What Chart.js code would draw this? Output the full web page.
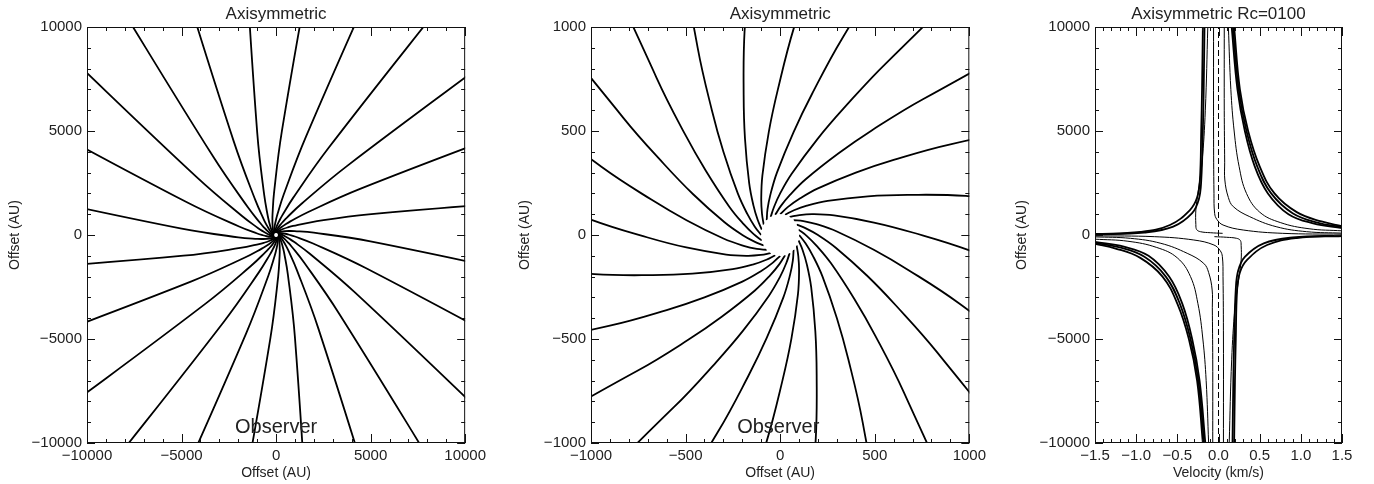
<!DOCTYPE html>
<html>
<head>
<meta charset="utf-8">
<script src="https://cdn.jsdelivr.net/npm/chart.js@4.4.0/dist/chart.umd.min.js"></script>
<style>
  html, body { margin: 0; padding: 0; background: #fff; }
  #wrap { position: relative; width: 1374px; height: 484px; overflow: hidden; }
  .panel { position: absolute; top: 0; }
</style>
</head>
<body>
<div id="wrap">
  <canvas id="c1" class="panel" style="left:0px" width="490" height="484"></canvas>
  <canvas id="c2" class="panel" style="left:490px" width="500" height="484"></canvas>
  <canvas id="c3" class="panel" style="left:990px" width="384" height="484"></canvas>
</div>
<script>
// infall streamlines (AU), outer -> inner, ending on the centrifugal radius
const streamX = [
  [14900, 4900, 1900, 900, 600, 400, 200, 100, 40, 0],
  [13944, 4476, 1674, 757, 486, 309, 135, 52, 4, -26],
  [12039, 3746, 1333, 562, 339, 196, 61, 0, -32, -50],
  [9314, 2761, 902, 328, 169, 71, -17, -52, -67, -71],
  [5952, 1588, 409, 73, -12, -60, -94, -100, -96, -87],
  [2186, 307, -111, -188, -193, -186, -164, -141, -119, -97],
  [-1730, -995, -624, -436, -361, -300, -224, -173, -134, -100],
  [-5526, -2230, -1095, -654, -504, -393, -268, -193, -140, -97],
  [-8946, -3312, -1491, -828, -612, -460, -294, -200, -136, -87],
  [-11757, -4169, -1785, -945, -679, -495, -300, -193, -123, -71],
  [-13769, -4741, -1958, -997, -700, -496, -285, -173, -102, -50],
  [-14840, -4991, -1997, -982, -673, -464, -251, -141, -73, -26],
  [-14900, -4900, -1900, -900, -600, -400, -200, -100, -40, 0],
  [-13944, -4476, -1674, -757, -486, -309, -135, -52, -4, 26],
  [-12039, -3746, -1333, -562, -339, -196, -61, 0, 32, 50],
  [-9314, -2761, -902, -328, -169, -71, 17, 52, 67, 71],
  [-5952, -1588, -409, -73, 12, 60, 94, 100, 96, 87],
  [-2186, -307, 111, 188, 193, 186, 164, 141, 119, 97],
  [1730, 995, 624, 436, 361, 300, 224, 173, 134, 100],
  [5526, 2230, 1095, 654, 504, 393, 268, 193, 140, 97],
  [8946, 3312, 1491, 828, 612, 460, 294, 200, 136, 87],
  [11757, 4169, 1785, 945, 679, 495, 300, 193, 123, 71],
  [13769, 4741, 1958, 997, 700, 496, 285, 173, 102, 50],
  [14840, 4991, 1997, 982, 673, 464, 251, 141, 73, 26]
];
const streamY = [
  [1730, 995, 624, 436, 361, 300, 224, 173, 134, 100],
  [5526, 2230, 1095, 654, 504, 393, 268, 193, 140, 97],
  [8946, 3312, 1491, 828, 612, 460, 294, 200, 136, 87],
  [11757, 4169, 1785, 945, 679, 495, 300, 193, 123, 71],
  [13769, 4741, 1958, 997, 700, 496, 285, 173, 102, 50],
  [14840, 4991, 1997, 982, 673, 464, 251, 141, 73, 26],
  [14900, 4900, 1900, 900, 600, 400, 200, 100, 40, 0],
  [13944, 4476, 1674, 757, 486, 309, 135, 52, 4, -26],
  [12039, 3746, 1333, 562, 339, 196, 61, 0, -32, -50],
  [9314, 2761, 902, 328, 169, 71, -17, -52, -67, -71],
  [5952, 1588, 409, 73, -12, -60, -94, -100, -96, -87],
  [2186, 307, -111, -188, -193, -186, -164, -141, -119, -97],
  [-1730, -995, -624, -436, -361, -300, -224, -173, -134, -100],
  [-5526, -2230, -1095, -654, -504, -393, -268, -193, -140, -97],
  [-8946, -3312, -1491, -828, -612, -460, -294, -200, -136, -87],
  [-11757, -4169, -1785, -945, -679, -495, -300, -193, -123, -71],
  [-13769, -4741, -1958, -997, -700, -496, -285, -173, -102, -50],
  [-14840, -4991, -1997, -982, -673, -464, -251, -141, -73, -26],
  [-14900, -4900, -1900, -900, -600, -400, -200, -100, -40, 0],
  [-13944, -4476, -1674, -757, -486, -309, -135, -52, -4, 26],
  [-12039, -3746, -1333, -562, -339, -196, -61, 0, 32, 50],
  [-9314, -2761, -902, -328, -169, -71, 17, 52, 67, 71],
  [-5952, -1588, -409, -73, 12, 60, 94, 100, 96, 87],
  [-2186, -307, 111, 188, 193, 186, 164, 141, 119, 97]
];
const centrifugalRadius = 100;

// position-velocity tracks (km/s, AU)
const pvVel = [
  [0.19, 0.26, 0.36, 0.50, 0.68, 0.95, 1.25, 1.50],
  [0.175, 0.245, 0.34, 0.47, 0.64, 0.90, 1.20, 1.50],
  [0.16, 0.23, 0.32, 0.44, 0.60, 0.85, 1.15, 1.50],
  [0.12, 0.15, 0.19, 0.25, 0.34, 0.50, 0.75, 1.10, 1.50],
  [0.07, 0.07, 0.075, 0.077, 0.12, 0.18, 0.38, 0.70, 1.07, 1.50],
  [-0.06, -0.06, -0.055, -0.047, -0.02, 0.055, 0.30, 0.78, 1.50],
  [-0.19, -0.20, -0.21, -0.226, -0.26, -0.347, -0.59, -0.95, -1.50],
  [-0.17, -0.18, -0.19, -0.21, -0.24, -0.32, -0.55, -0.90, -1.50],
  [-0.13, -0.16, -0.20, -0.25, -0.275, -0.275, -0.265, -0.22, -0.10, 0.05],
  [-0.19, -0.26, -0.36, -0.50, -0.68, -0.95, -1.25, -1.50],
  [-0.175, -0.245, -0.34, -0.47, -0.64, -0.90, -1.20, -1.50],
  [-0.16, -0.23, -0.32, -0.44, -0.60, -0.85, -1.15, -1.50],
  [-0.12, -0.15, -0.19, -0.25, -0.34, -0.50, -0.75, -1.10, -1.50],
  [-0.07, -0.07, -0.075, -0.077, -0.12, -0.18, -0.38, -0.70, -1.07, -1.50],
  [0.06, 0.06, 0.055, 0.047, 0.02, -0.055, -0.30, -0.78, -1.50],
  [0.19, 0.20, 0.21, 0.226, 0.26, 0.347, 0.59, 0.95, 1.50],
  [0.17, 0.18, 0.19, 0.21, 0.24, 0.32, 0.55, 0.90, 1.50],
  [0.13, 0.16, 0.20, 0.25, 0.275, 0.275, 0.265, 0.22, 0.10, -0.05]
];
const pvOff = [
  [10000, 7000, 5000, 3300, 2000, 1100, 650, 430],
  [10000, 7000, 5000, 3300, 2000, 1050, 600, 380],
  [10000, 7000, 5000, 3300, 2000, 1000, 560, 330],
  [10000, 7000, 5000, 3300, 2000, 1100, 600, 300, 200],
  [10000, 6000, 3500, 2644, 1800, 1362, 880, 400, 160, 90],
  [10000, 5000, 2000, 1042, 750, 481, 240, 80, 40],
  [10000, 7000, 5000, 2644, 1800, 1201, 480, 144, 48],
  [10000, 7000, 5000, 2600, 1700, 1050, 400, 120, 30],
  [10000, 6000, 3500, 2000, 1200, 500, 260, 160, 110, 80],
  [-10000, -7000, -5000, -3300, -2000, -1100, -650, -430],
  [-10000, -7000, -5000, -3300, -2000, -1050, -600, -380],
  [-10000, -7000, -5000, -3300, -2000, -1000, -560, -330],
  [-10000, -7000, -5000, -3300, -2000, -1100, -600, -300, -200],
  [-10000, -6000, -3500, -2644, -1800, -1362, -880, -400, -160, -90],
  [-10000, -5000, -2000, -1042, -750, -481, -240, -80, -40],
  [-10000, -7000, -5000, -2644, -1800, -1201, -480, -144, -48],
  [-10000, -7000, -5000, -2600, -1700, -1050, -400, -120, -30],
  [-10000, -6000, -3500, -2000, -1200, -500, -260, -160, -110, -80]
];
const pvWidth = [1.8, 1.8, 1.8, 1, 1, 1, 1.8, 1.8, 1, 1.8, 1.8, 1.8, 1, 1, 1, 1.8, 1.8, 1];
const systemicVel = [0, 0];
const systemicOff = [-10000, 10000];

const posTicks = [-10000, -5000, 0, 5000, 10000];
const zoomTicks = [-1000, -500, 0, 500, 1000];
const velTicks = [-1.5, -1.0, -0.5, 0.0, 0.5, 1.0, 1.5];
const observerLabel = 'Observer';

function range(a, b, step) {
  const out = [];
  for (let v = a; v <= b + step / 2; v += step) out.push(Math.round(v / step) * step);
  return out;
}

// IDL-like frame: box with inward major/minor ticks on all four sides
const frameTicks = {
  id: 'frameTicks',
  afterDraw(chart, args, o) {
    const {ctx, chartArea: a, scales: {x, y}} = chart;
    ctx.save();
    ctx.strokeStyle = '#111';
    ctx.lineWidth = 1;
    ctx.strokeRect(a.left + 0.5, a.top + 0.5, a.right - a.left - 1, a.bottom - a.top - 1);
    ctx.beginPath();
    const isMajor = (v, list) => list.some(t => Math.abs(t - v) < 1e-6);
    o.xMinor.forEach(v => {
      const p = Math.round(x.getPixelForValue(v)) + 0.5;
      const len = isMajor(v, o.xMajor) ? 9 : 4;
      ctx.moveTo(p, a.bottom); ctx.lineTo(p, a.bottom - len);
      ctx.moveTo(p, a.top); ctx.lineTo(p, a.top + len);
    });
    o.yMinor.forEach(v => {
      const p = Math.round(y.getPixelForValue(v)) + 0.5;
      const len = isMajor(v, o.yMajor) ? 8 : 4;
      ctx.moveTo(a.left, p); ctx.lineTo(a.left + len, p);
      ctx.moveTo(a.right, p); ctx.lineTo(a.right - len, p);
    });
    ctx.stroke();
    ctx.restore();
  }
};

// empty disk inside the centrifugal radius + observer label
const diskAndLabel = {
  id: 'diskAndLabel',
  afterDatasetsDraw(chart, args, o) {
    if (!o.on) return;
    const {ctx, scales: {x, y}} = chart;
    const cx = x.getPixelForValue(0), cy = y.getPixelForValue(0);
    const rx = Math.abs(x.getPixelForValue(centrifugalRadius) - cx);
    const ry = Math.abs(y.getPixelForValue(centrifugalRadius) - cy);
    ctx.save();
    ctx.fillStyle = '#fff';
    ctx.beginPath();
    ctx.ellipse(cx, cy, rx, ry, 0, 0, Math.PI * 2);
    ctx.fill();
    ctx.fillStyle = '#222';
    ctx.font = '20px "Liberation Sans", Arial, sans-serif';
    ctx.textAlign = 'center';
    ctx.textBaseline = 'middle';
    ctx.fillText(observerLabel, x.getPixelForValue(o.labelX), y.getPixelForValue(o.labelY));
    ctx.restore();
  }
};

const FONT = '"Liberation Sans", Arial, sans-serif';

function makeChart(id, cfg) {
  const datasets = cfg.tracks.map(t => ({
    data: t.xs.map((v, i) => ({x: v, y: t.ys[i]})),
    showLine: true,
    borderColor: '#000',
    borderWidth: t.width,
    borderDash: t.dash || [],
    pointRadius: 0,
    tension: t.dash ? 0 : 0.4,
    fill: false
  }));
  return new Chart(document.getElementById(id), {
    type: 'scatter',
    data: {datasets},
    options: {
      responsive: false,
      animation: false,
      devicePixelRatio: 1,
      layout: {padding: {left: 0, right: cfg.padRight, top: 0, bottom: 0}},
      plugins: {
        legend: {display: false},
        tooltip: {enabled: false},
        title: {
          display: true,
          text: cfg.title,
          fullSize: false,
          color: '#222',
          font: {family: FONT, size: 17, weight: 'normal'},
          padding: {top: 4, bottom: 2.6}
        },
        frameTicks: cfg.frame,
        diskAndLabel: cfg.disk
      },
      scales: {
        x: {
          type: 'linear',
          min: cfg.xMin, max: cfg.xMax,
          afterFit: s => { s.height = 41; },
          afterBuildTicks: s => { s.ticks = cfg.xTicks.map(v => ({value: v})); },
          grid: {display: false, drawTicks: false, tickLength: 0},
          border: {display: false},
          ticks: {
            color: '#222', padding: 4, maxRotation: 0, autoSkip: false,
            font: {family: FONT, size: 15},
            callback: cfg.xFormat
          },
          title: {display: true, text: cfg.xTitle, color: '#222',
            font: {family: FONT, size: 14}, padding: {top: 0, bottom: 2}}
        },
        y: {
          type: 'linear',
          min: cfg.yMin, max: cfg.yMax,
          afterFit: s => { s.width = cfg.yWidth; },
          afterBuildTicks: s => { s.ticks = cfg.yTicks.map(v => ({value: v})); },
          grid: {display: false, drawTicks: false, tickLength: 0},
          border: {display: false},
          ticks: {
            color: '#222', padding: 5, autoSkip: false,
            font: {family: FONT, size: 15},
            callback: v => String(v).replace('-', '\u2212')
          },
          title: {display: true, text: 'Offset (AU)', color: '#222',
            font: {family: FONT, size: 14}, padding: {top: cfg.yTitlePad, bottom: 0}}
        }
      }
    },
    plugins: [frameTicks, diskAndLabel]
  });
}

const streamTracks = streamX.map((xs, k) => ({xs, ys: streamY[k], width: 1.8}));
const intFmt = v => String(v).replace('-', '\u2212');

makeChart('c1', {
  title: 'Axisymmetric', tracks: streamTracks,
  xMin: -10000, xMax: 10000, yMin: -10000, yMax: 10000,
  xTicks: posTicks, yTicks: posTicks, xFormat: intFmt, xTitle: 'Offset (AU)',
  yWidth: 87, padRight: 15, yTitlePad: 6.6,
  frame: {xMinor: range(-10000, 10000, 1000), xMajor: posTicks, yMinor: range(-10000, 10000, 1000), yMajor: posTicks},
  disk: {on: true, labelX: 0, labelY: -9250}
});

makeChart('c2', {
  title: 'Axisymmetric', tracks: streamTracks,
  xMin: -1000, xMax: 1000, yMin: -1000, yMax: 1000,
  xTicks: zoomTicks, yTicks: zoomTicks, xFormat: intFmt, xTitle: 'Offset (AU)',
  yWidth: 101, padRight: 11, yTitlePad: 26.6,
  frame: {xMinor: range(-1000, 1000, 100), xMajor: zoomTicks, yMinor: range(-1000, 1000, 100), yMajor: zoomTicks},
  disk: {on: true, labelX: -10, labelY: -925}
});

const pvTracks = pvVel.map((xs, k) => ({xs, ys: pvOff[k], width: pvWidth[k]}));
pvTracks.push({xs: systemicVel, ys: systemicOff, width: 1, dash: [6, 3]});

makeChart('c3', {
  title: 'Axisymmetric Rc=0100', tracks: pvTracks,
  xMin: -1.5, xMax: 1.5, yMin: -10000, yMax: 10000,
  xTicks: velTicks, yTicks: posTicks,
  xFormat: v => v.toFixed(1).replace('-', '\u2212'), xTitle: 'Velocity (km/s)',
  yWidth: 105, padRight: 32, yTitlePad: 23.6,
  frame: {xMinor: range(-1.5, 1.5, 0.1), xMajor: velTicks, yMinor: range(-10000, 10000, 1000), yMajor: posTicks},
  disk: {on: false}
});
</script>
</body>
</html>
